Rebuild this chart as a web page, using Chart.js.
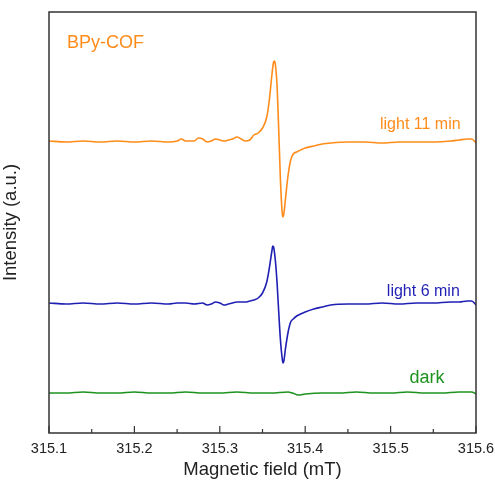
<!DOCTYPE html>
<html>
<head>
<meta charset="utf-8">
<script src="https://cdn.jsdelivr.net/npm/chart.js@4.4.1/dist/chart.umd.min.js"></script>
<style>
  html, body { margin: 0; padding: 0; background: #fff; }
  #wrap { width: 495px; height: 481px; position: relative; }
</style>
</head>
<body>
<div id="wrap"><canvas id="graficoEPR"></canvas></div>
<script>
// magnetic field (mT) and intensity (a.u.) for each spectrum
const fieldLight11 = [315.10, 315.12, 315.14, 315.16, 315.18, 315.20, 315.22, 315.24, 315.25, 315.255,
  315.26, 315.27, 315.275, 315.28, 315.285, 315.29, 315.295, 315.30, 315.305, 315.31, 315.315, 315.32,
  315.325, 315.33, 315.335, 315.34, 315.345, 315.35, 315.355, 315.358, 315.361, 315.363, 315.364, 315.365,
  315.367, 315.369, 315.371, 315.373, 315.374, 315.375, 315.377, 315.380, 315.383, 315.386, 315.39, 315.40,
  315.41, 315.42, 315.43, 315.45, 315.47, 315.49, 315.51, 315.53, 315.55, 315.57, 315.58, 315.59, 315.595, 315.60];
const light11 = [292, 291, 292, 291, 292, 291, 292, 291, 292, 294,
  292, 292, 295, 294, 291, 292, 294, 293, 292, 293, 294, 296,
  294, 292, 293, 298, 300, 305, 316, 333, 358, 371, 372, 369,
  348, 303, 253, 221, 216, 219, 235, 258, 273, 279, 281, 285,
  287, 289, 290, 291, 291, 290, 291, 291, 291, 292, 293, 294, 294, 290];

const fieldLight6 = [315.10, 315.12, 315.14, 315.16, 315.18, 315.20, 315.22, 315.24, 315.25, 315.26,
  315.27, 315.28, 315.285, 315.29, 315.295, 315.30, 315.305, 315.31, 315.315, 315.32, 315.33, 315.335,
  315.34, 315.345, 315.35, 315.355, 315.358, 315.361, 315.362, 315.363, 315.365, 315.367, 315.369, 315.371,
  315.373, 315.374, 315.375, 315.377, 315.380, 315.383, 315.386, 315.39, 315.40, 315.41, 315.42, 315.43,
  315.45, 315.47, 315.49, 315.51, 315.53, 315.55, 315.57, 315.58, 315.59, 315.595, 315.60];
const light6 = [130, 129, 130, 129, 130, 129, 130, 129, 130, 130,
  129, 130, 128, 129, 131, 130, 128, 129, 130, 131, 131, 132,
  133, 135, 140, 151, 165, 182, 187, 186, 173, 151, 121, 93,
  75, 70, 72, 85, 101, 111, 114, 117, 121, 124, 126, 128,
  129, 129, 130, 129, 130, 130, 131, 131, 132, 132, 128];

const fieldDark = [315.10, 315.12, 315.14, 315.16, 315.18, 315.20, 315.22, 315.24, 315.26, 315.28,
  315.30, 315.32, 315.34, 315.36, 315.38, 315.385, 315.392, 315.40, 315.42, 315.44, 315.46, 315.48,
  315.50, 315.52, 315.54, 315.56, 315.58, 315.595, 315.60];
const dark = [40, 40, 41, 40, 40, 41, 40, 40, 41, 40,
  40, 41, 40, 40, 41, 40, 38, 39, 40, 40, 41, 40,
  40, 41, 40, 40, 41, 41, 39];

const fieldTicks = [315.1, 315.2, 315.3, 315.4, 315.5, 315.6];

const ORANGE = '#FF8C1A';
const BLUE = '#1F1FB4';
const GREEN = '#1E921E';
const FONT = '"Liberation Sans", Arial, sans-serif';

function toPoints(xs, ys) {
  return xs.map((x, i) => ({ x: x, y: ys[i] }));
}

// text labels placed in data coordinates
const etiquetas = [
  { text: 'BPy-COF', x: 315.121, y: 390, color: ORANGE, size: 18, align: 'left' },
  { text: 'light 11 min', x: 315.582, y: 308, color: ORANGE, size: 16, align: 'right' },
  { text: 'light 6 min', x: 315.581, y: 141, color: BLUE, size: 16, align: 'right' },
  { text: 'dark', x: 315.563, y: 55, color: GREEN, size: 18, align: 'right' }
];

const molduraPlugin = {
  id: 'moldura',
  afterDatasetsDraw(chart) {
    const { ctx, chartArea: a, scales } = chart;
    ctx.save();
    // frame
    ctx.strokeStyle = '#333';
    ctx.lineWidth = 1.5;
    ctx.strokeRect(a.left, a.top, a.right - a.left, a.bottom - a.top);
    // inward ticks on the bottom axis, minor ones halfway
    ctx.lineWidth = 1.2;
    for (let i = 0; i < fieldTicks.length; i++) {
      const px = scales.x.getPixelForValue(fieldTicks[i]);
      ctx.beginPath();
      ctx.moveTo(px, a.bottom);
      ctx.lineTo(px, a.bottom - 7);
      ctx.stroke();
      if (i < fieldTicks.length - 1) {
        const mx = scales.x.getPixelForValue((fieldTicks[i] + fieldTicks[i + 1]) / 2);
        ctx.beginPath();
        ctx.moveTo(mx, a.bottom);
        ctx.lineTo(mx, a.bottom - 4);
        ctx.stroke();
      }
    }
    // labels
    ctx.textBaseline = 'middle';
    etiquetas.forEach(e => {
      ctx.fillStyle = e.color;
      ctx.font = e.size + 'px ' + FONT;
      ctx.textAlign = e.align;
      ctx.fillText(e.text, scales.x.getPixelForValue(e.x), scales.y.getPixelForValue(e.y));
    });
    ctx.restore();
  }
};

const linha = (label, data, color) => ({
  label: label,
  data: data,
  borderColor: color,
  borderWidth: 1.6,
  pointRadius: 0,
  fill: false,
  cubicInterpolationMode: 'monotone'
});

const ctx = document.getElementById('graficoEPR').getContext('2d');
new Chart(ctx, {
  type: 'line',
  data: {
    datasets: [
      linha('light 11 min', toPoints(fieldLight11, light11), ORANGE),
      linha('light 6 min', toPoints(fieldLight6, light6), BLUE),
      linha('dark', toPoints(fieldDark, dark), GREEN)
    ]
  },
  options: {
    responsive: true,
    maintainAspectRatio: false,
    animation: false,
    layout: { padding: { top: 12, right: 19, left: 0, bottom: 0 } },
    scales: {
      x: {
        type: 'linear',
        min: 315.1,
        max: 315.6,
        afterBuildTicks(scale) {
          scale.ticks = fieldTicks.map(v => ({ value: v }));
        },
        afterFit(scale) {
          scale.height = 48;
          scale.paddingLeft = 0;
          scale.paddingRight = 0;
        },
        grid: { display: false, drawTicks: false },
        border: { display: false },
        ticks: {
          color: '#222',
          padding: 7,
          maxRotation: 0,
          font: { family: FONT, size: 14.5 },
          callback: v => v.toFixed(1)
        },
        title: {
          display: true,
          text: 'Magnetic field (mT)',
          color: '#222',
          font: { family: FONT, size: 18.5 },
          padding: { top: 1, bottom: 0 }
        }
      },
      y: {
        min: 0,
        max: 421,
        afterFit(scale) {
          scale.width = 49;
          scale.paddingTop = 0;
          scale.paddingBottom = 0;
        },
        grid: { display: false, drawTicks: false },
        border: { display: false },
        ticks: { display: false },
        title: {
          display: true,
          text: 'Intensity (a.u.)',
          color: '#222',
          font: { family: FONT, size: 18.5 },
          padding: { top: 0, bottom: 0 }
        }
      }
    },
    plugins: {
      legend: { display: false },
      tooltip: { enabled: false }
    }
  },
  plugins: [molduraPlugin]
});
</script>
</body>
</html>
